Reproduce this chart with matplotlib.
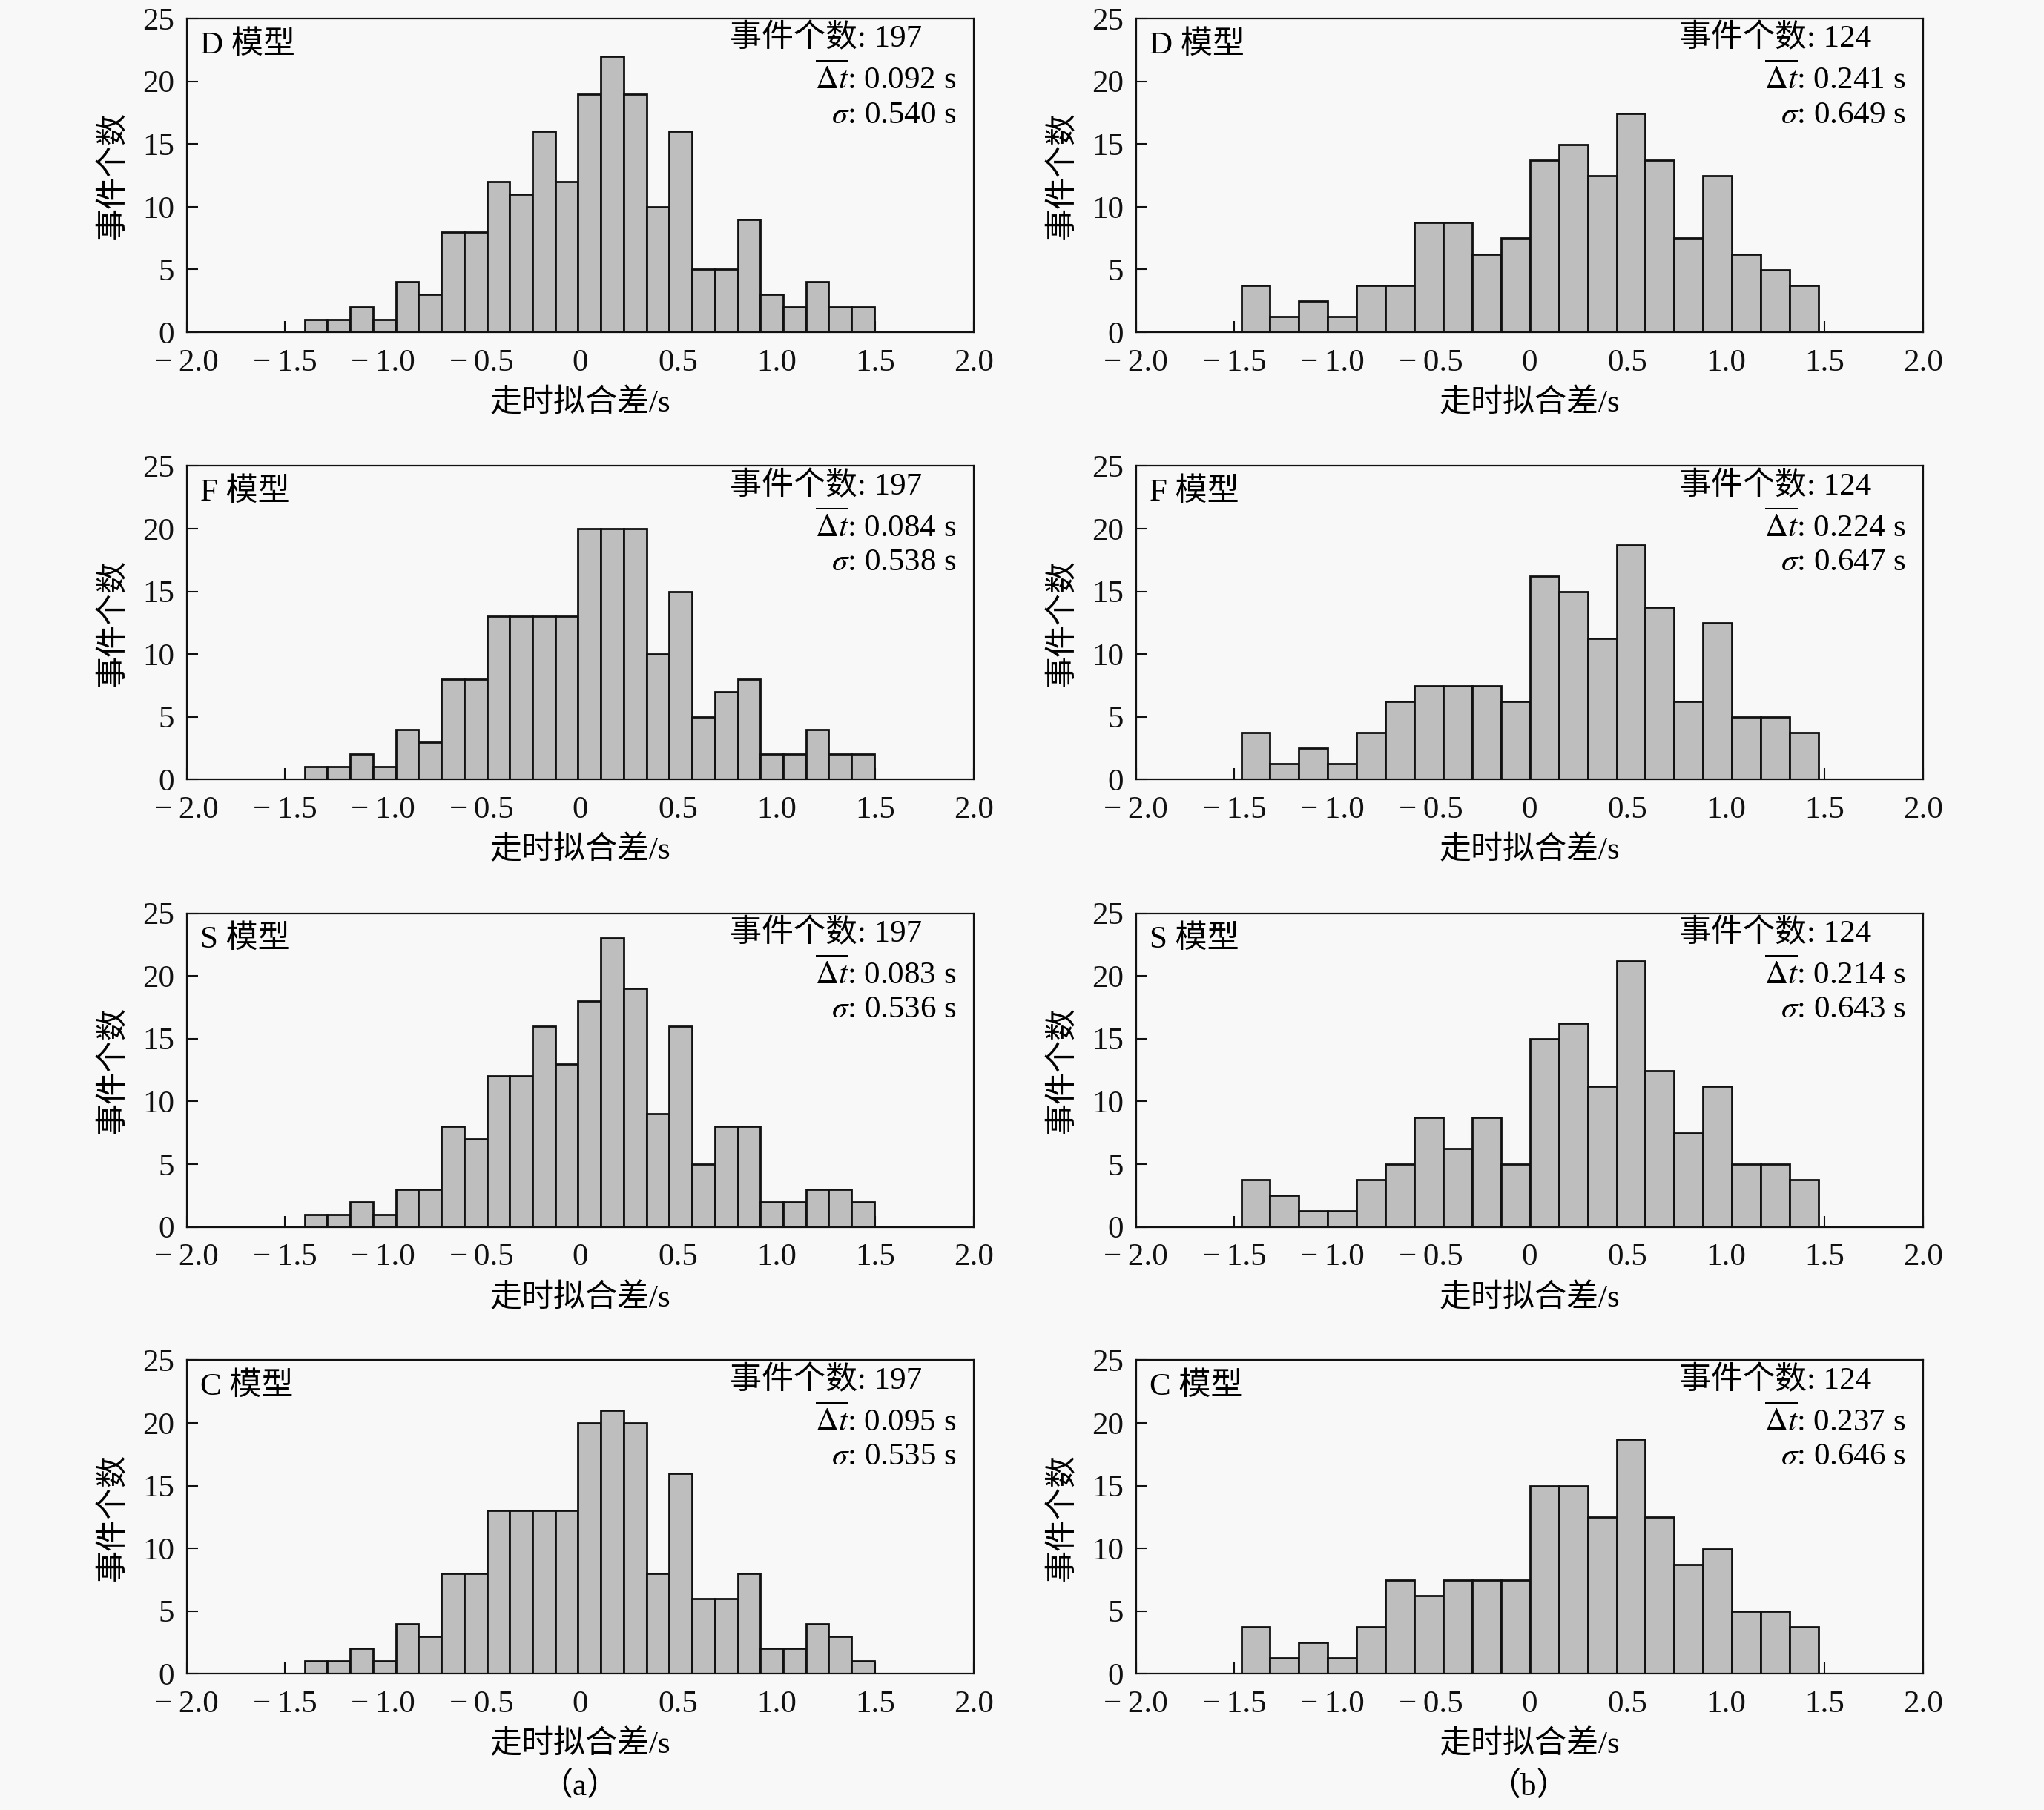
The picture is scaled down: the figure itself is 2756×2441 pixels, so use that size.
import numpy as np
import matplotlib
matplotlib.use("Agg")
import matplotlib.pyplot as plt

plt.rcParams['font.family'] = ['Liberation Serif', 'Noto Sans CJK SC', 'DejaVu Sans']
plt.rcParams['mathtext.fontset'] = 'stix'
plt.rcParams['axes.unicode_minus'] = True

# ---------------- data ----------------
models = ["D", "F", "S", "C"]

# left column (a): 25 bins, counts
left_bin_lo, left_bin_hi, left_nbins = -1.400, 1.496, 25
left_D = [1, 1, 2, 1, 4, 3, 8, 8, 12, 11, 16, 12, 19, 22, 19, 10, 16, 5, 5, 9, 3, 2, 4, 2, 2]
left_F = [1, 1, 2, 1, 4, 3, 8, 8, 13, 13, 13, 13, 20, 20, 20, 10, 15, 5, 7, 8, 2, 2, 4, 2, 2]
left_S = [1, 1, 2, 1, 3, 3, 8, 7, 12, 12, 16, 13, 18, 23, 19, 9, 16, 5, 8, 8, 2, 2, 3, 3, 2]
left_C = [1, 1, 2, 1, 4, 3, 8, 8, 13, 13, 13, 13, 20, 21, 20, 8, 16, 6, 6, 8, 2, 2, 4, 3, 1]

# right column (b): 20 bins, counts (drawn with a height scale)
right_bin_lo, right_bin_hi, right_nbins = -1.465, 1.470, 20
right_scale = 1.247
right_D = [3, 1, 2, 1, 3, 3, 7, 7, 5, 6, 11, 12, 10, 14, 11, 6, 10, 5, 4, 3]
right_F = [3, 1, 2, 1, 3, 5, 6, 6, 6, 5, 13, 12, 9, 15, 11, 5, 10, 4, 4, 3]
right_S = [3, 2, 1, 1, 3, 4, 7, 5, 7, 4, 12, 13, 9, 17, 10, 6, 9, 4, 4, 3]
right_C = [3, 1, 2, 1, 3, 6, 5, 6, 6, 6, 12, 12, 10, 15, 10, 7, 8, 4, 4, 3]

left_n = [197, 197, 197, 197]
left_mean = ["0.092", "0.084", "0.083", "0.095"]
left_sigma = ["0.540", "0.538", "0.536", "0.535"]
right_n = [124, 124, 124, 124]
right_mean = ["0.241", "0.224", "0.214", "0.237"]
right_sigma = ["0.649", "0.647", "0.643", "0.646"]

xticks = [-2.0, -1.5, -1.0, -0.5, 0.0, 0.5, 1.0, 1.5, 2.0]
xticklabels = ["\u2212\u20092.0", "\u2212\u20091.5", "\u2212\u20091.0", "\u2212\u20090.5",
               "0", "0.5", "1.0", "1.5", "2.0"]
yticks = [0, 5, 10, 15, 20, 25]
xlabel = "走时拟合差/s"
ylabel = "事件个数"
panel_labels = ["（a）", "（b）"]

# ---------------- figure ----------------
W, H = 2756, 2441
bg = '#f8f8f8'
fig = plt.figure(figsize=(W / 100, H / 100), dpi=100, facecolor=bg)

col_x = [251.6 / W, 1531.6 / W]
ax_w = 1061 / W
row_bottom_px = [448, 1051.3, 1654.5, 2257.3]
ax_h = 423 / H

FS = 31
left_data = [left_D, left_F, left_S, left_C]
right_data = [right_D, right_F, right_S, right_C]

for col in range(2):
    for r in range(4):
        ax = fig.add_axes([col_x[col], 1 - row_bottom_px[r] / H, ax_w, ax_h])
        ax.set_facecolor(bg)
        if col == 0:
            edges = np.linspace(left_bin_lo, left_bin_hi, left_nbins + 1)
            heights = np.array(left_data[r], dtype=float)
            n, mu, sg = left_n[r], left_mean[r], left_sigma[r]
        else:
            edges = np.linspace(right_bin_lo, right_bin_hi, right_nbins + 1)
            heights = np.array(right_data[r], dtype=float) * right_scale
            n, mu, sg = right_n[r], right_mean[r], right_sigma[r]
        ax.bar(edges[:-1], heights, width=np.diff(edges), align='edge',
               color='#bebebe', edgecolor='#111111', linewidth=2.0, zorder=2)
        ax.set_xlim(-2.0, 2.0)
        ax.set_ylim(0, 25)
        ax.set_xticks(xticks)
        ax.set_xticklabels(xticklabels)
        ax.set_yticks(yticks)
        ax.tick_params(direction='in', length=11, width=1.5, top=False, right=False,
                       labelsize=FS, pad=12, colors='#111111')
        ax.tick_params(axis='x', pad=16)
        for sp in ax.spines.values():
            sp.set_linewidth(1.6)
            sp.set_color('#111111')
        ax.set_xlabel(xlabel, fontsize=FS)
        ax.xaxis.set_label_coords(0.5, -0.18)
        ax.set_ylabel(ylabel, fontsize=FS)
        ax.yaxis.set_label_coords(-0.074, 0.5)

        ax.text(0.017, 0.915, f"{models[r]} 模型", transform=ax.transAxes,
                fontsize=FS, ha='left', va='center')
        ax.text(0.690, 0.935, f"事件个数: {n}", transform=ax.transAxes,
                fontsize=FS, ha='left', va='center')
        ax.text(0.978, 0.806, r"$\overline{\Delta t}$: " + f"{mu} s", transform=ax.transAxes,
                fontsize=FS, ha='right', va='center')
        ax.text(0.978, 0.692, r"$\sigma$: " + f"{sg} s", transform=ax.transAxes,
                fontsize=FS, ha='right', va='center')

fig.text(782 / W, 1 - 2410 / H, panel_labels[0], fontsize=FS, ha='center', va='center')
fig.text(2061 / W, 1 - 2410 / H, panel_labels[1], fontsize=FS, ha='center', va='center')

fig.savefig("out.png", dpi=100, facecolor=bg)
